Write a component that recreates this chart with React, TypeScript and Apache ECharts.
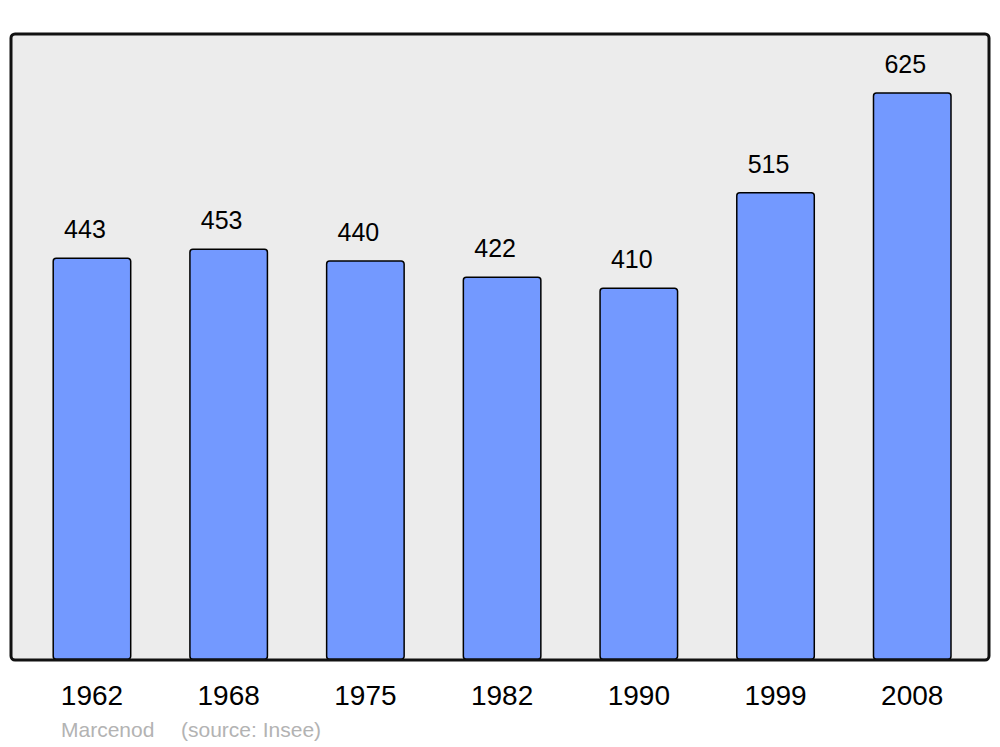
import React, { useEffect, useRef } from "react";
import * as echarts from "echarts";

const years = ["1962", "1968", "1975", "1982", "1990", "1999", "2008"];
const population = [443, 453, 440, 422, 410, 515, 625];

export default function App() {
  const ref = useRef<HTMLDivElement>(null);
  useEffect(() => {
    if (!ref.current) return;
    const chart = echarts.init(ref.current, null, { renderer: "svg" });
    const font = "Liberation Sans, Arial, sans-serif";
    chart.setOption({
      animation: false,
      backgroundColor: "#ffffff",
      grid: { left: 23.6, right: 19.4, top: 34, bottom: 87 },
      xAxis: {
        type: "category",
        data: years,
        boundaryGap: true,
        axisLine: { show: false },
        axisTick: { show: false },
        axisLabel: {
          fontSize: 28,
          color: "#000",
          fontFamily: font,
          margin: 21,
        },
      },
      yAxis: {
        type: "value",
        min: 0,
        max: 689,
        show: false,
        splitLine: { show: false },
      },
      series: [
        {
          type: "bar",
          data: population,
          barWidth: 79,
          z: 5,
          itemStyle: {
            color: "#7399ff",
            borderColor: "#000",
            borderWidth: 1.5,
            borderRadius: 3,
          },
          label: {
            show: true,
            position: "top",
            distance: 16,
            offset: [-7, 0],
            fontSize: 25,
            color: "#000",
            fontFamily: font,
          },
        },
      ],
      graphic: [
        {
          type: "rect",
          z: -10,
          shape: { x: 11, y: 34, width: 978, height: 626, r: 4 },
          style: { fill: "#ececec", stroke: "none" },
        },
        {
          type: "rect",
          z: 100,
          shape: { x: 11, y: 34, width: 978, height: 626, r: 4 },
          style: { fill: "none", stroke: "#111", lineWidth: 3 },
        },
        {
          type: "text",
          left: 61,
          top: 719,
          z: 100,
          style: {
            text: "Marcenod",
            fill: "#b3b3b3",
            fontSize: 21,
            fontFamily: font,
          },
        },
        {
          type: "text",
          left: 181,
          top: 719,
          z: 100,
          style: {
            text: "(source: Insee)",
            fill: "#b3b3b3",
            fontSize: 21,
            fontFamily: font,
          },
        },
      ],
    });
    return () => chart.dispose();
  }, []);
  return <div ref={ref} style={{ width: 1000, height: 747, position: "absolute", left: 0, top: 0 }} />;
}
